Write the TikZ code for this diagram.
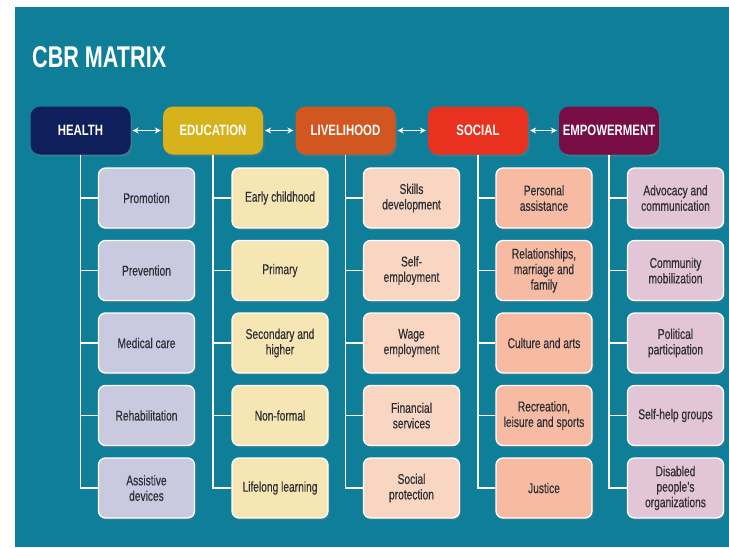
\documentclass[tikz,border=0pt]{standalone}
\usepackage{fontspec}
\setmainfont{Liberation Sans}
\newfontfamily\cond{Liberation Sans}[FakeStretch=0.76]
\newfontfamily\condsub{Liberation Sans}[FakeStretch=0.72,FakeBold=0.4]
\newfontfamily\condtitle{Liberation Sans}[FakeStretch=0.72]
\usetikzlibrary{arrows.meta,shadows}
\definecolor{bgteal}{HTML}{0F7E98}
\definecolor{chealth}{HTML}{0E1F5B}
\definecolor{cedu}{HTML}{D8B21A}
\definecolor{cliv}{HTML}{D2561F}
\definecolor{csoc}{HTML}{E8321F}
\definecolor{cemp}{HTML}{780C45}
\definecolor{fhealth}{HTML}{C9CAE0}
\definecolor{fedu}{HTML}{F6E6B3}
\definecolor{fliv}{HTML}{F8D6C1}
\definecolor{fsoc}{HTML}{F6BBA2}
\definecolor{femp}{HTML}{E2C6D8}
\definecolor{ctext}{HTML}{2E2E36}
\tikzset{
  headbox/.style={rounded corners=10pt, minimum width=100pt, minimum height=48pt, inner sep=0pt,
    text=white, font=\cond\bfseries\fontsize{15}{17}\selectfont,
    drop shadow={shadow xshift=1.5pt, shadow yshift=-2pt, opacity=0.35}},
  subbox/.style={rounded corners=7pt, draw=white, line width=1.3pt, minimum width=96pt, minimum height=60pt,
    inner sep=0pt, align=center, text=ctext, font=\condsub\fontsize{14.2}{15.5}\selectfont,
    drop shadow={shadow xshift=1.5pt, shadow yshift=-2pt, opacity=0.3}},
  link/.style={draw=white, line width=1.4pt},
  twoway/.style={draw=white, line width=1.6pt, {Stealth[length=6pt,width=6pt]}-{Stealth[length=6pt,width=6pt]}, shorten <=2pt, shorten >=2pt},
}
\begin{document}
\begin{tikzpicture}[x=1pt,y=-1pt]
\useasboundingbox (0,0) rectangle (729,547);
\fill[white] (0,0) rectangle (729,547);
\fill[bgteal] (15,7) rectangle (729,547);
\node[anchor=base west, inner sep=0pt, text=white, font=\condtitle\bfseries\fontsize{30}{32}\selectfont] (title) at (32,67) {CBR MATRIX};

\node[headbox, fill=chealth] (h1) at (80.5,130.5) {HEALTH};
\node[headbox, fill=cedu] (h2) at (213,130.5) {EDUCATION};
\node[headbox, fill=cliv] (h3) at (345.5,130.5) {LIVELIHOOD};
\node[headbox, fill=csoc] (h4) at (478,130.5) {SOCIAL};
\node[headbox, fill=cemp] (h5) at (609,130.5) {EMPOWERMENT};

\draw[twoway] (h1) -- (h2);
\draw[twoway] (h2) -- (h3);
\draw[twoway] (h3) -- (h4);
\draw[twoway] (h4) -- (h5);

% Health
\node[subbox, fill=fhealth] (c11) at (146.5,198) {Promotion};
\node[subbox, fill=fhealth] (c12) at (146.5,270.5) {Prevention};
\node[subbox, fill=fhealth] (c13) at (146.5,343) {Medical care};
\node[subbox, fill=fhealth] (c14) at (146.5,415.5) {Rehabilitation};
\node[subbox, fill=fhealth] (c15) at (146.5,488) {Assistive\\devices};
% Education
\node[subbox, fill=fedu] (c21) at (280,198) {Early childhood};
\node[subbox, fill=fedu] (c22) at (280,270.5) {Primary};
\node[subbox, fill=fedu] (c23) at (280,343) {Secondary and\\higher};
\node[subbox, fill=fedu] (c24) at (280,415.5) {Non-formal};
\node[subbox, fill=fedu] (c25) at (280,488) {Lifelong learning};
% Livelihood
\node[subbox, fill=fliv] (c31) at (411.5,198) {Skills\\development};
\node[subbox, fill=fliv] (c32) at (411.5,270.5) {Self-\\employment};
\node[subbox, fill=fliv] (c33) at (411.5,343) {Wage\\employment};
\node[subbox, fill=fliv] (c34) at (411.5,415.5) {Financial\\services};
\node[subbox, fill=fliv] (c35) at (411.5,488) {Social\\protection};
% Social
\node[subbox, fill=fsoc] (c41) at (544,198) {Personal\\assistance};
\node[subbox, fill=fsoc] (c42) at (544,270.5) {Relationships,\\marriage and\\family};
\node[subbox, fill=fsoc] (c43) at (544,343) {Culture and arts};
\node[subbox, fill=fsoc] (c44) at (544,415.5) {Recreation,\\leisure and sports};
\node[subbox, fill=fsoc] (c45) at (544,488) {Justice};
% Empowerment
\node[subbox, fill=femp] (c51) at (675.5,198) {Advocacy and\\communication};
\node[subbox, fill=femp] (c52) at (675.5,270.5) {Community\\mobilization};
\node[subbox, fill=femp] (c53) at (675.5,343) {Political\\participation};
\node[subbox, fill=femp] (c54) at (675.5,415.5) {Self-help groups};
\node[subbox, fill=femp] (c55) at (675.5,488) {Disabled\\people’s\\organizations};

\foreach \i in {1,...,5}{
  \draw[link] (h\i.south) |- (c\i5.west);
  \foreach \j in {1,...,4}{
    \draw[link] (h\i.south |- c\i\j.west) -- (c\i\j.west);
  }
}
\end{tikzpicture}
\end{document}
